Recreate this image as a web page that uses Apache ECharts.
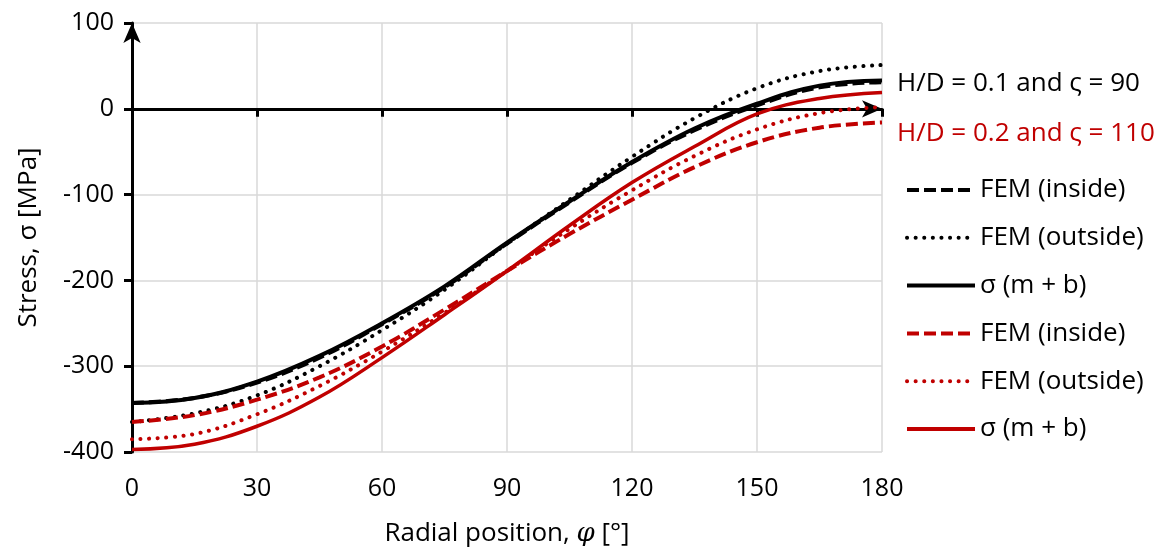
<!DOCTYPE html>
<html>
<head>
<meta charset="utf-8">
<script src="https://cdn.jsdelivr.net/npm/echarts@6/dist/echarts.min.js"></script>
<style>
  html, body { margin: 0; padding: 0; background: #fff; }
  #chart { width: 1168px; height: 552px; }
</style>
</head>
<body>
<div id="chart"></div>
<script>
// Radial position φ [°]
const phi = [0, 15, 30, 45, 60, 75, 90, 105, 120, 135, 150, 165, 180];
const xTicks = [0, 30, 60, 90, 120, 150, 180];
const yTicks = [-400, -300, -200, -100, 0, 100];

// H/D = 0.1 and ς = 90 (black)
const blackFemInside  = [-343, -337, -319, -290, -251, -208, -157, -109, -63, -25, 4, 25, 31];
const blackFemOutside = [-365, -355, -334, -300, -258, -211, -157, -106, -56, -11, 24, 44, 51];
const blackSigma      = [-343, -337, -318, -288, -250, -207, -156, -108, -62, -23, 6, 27, 33];

// H/D = 0.2 and ς = 110 (red)
const redFemInside  = [-365, -357, -339, -313, -277, -234, -189, -146, -106, -68, -39, -22, -16];
const redFemOutside = [-385, -379, -356, -323, -283, -238, -189, -140, -95, -55, -24, -5, 2];
const redSigma      = [-397, -391, -370, -336, -290, -240, -189, -136, -86, -44, -6, 12, 19];

const seriesNames = ['FEM (inside)', 'FEM (outside)', 'σ (m + b)',
                     'FEM (inside)\u200b', 'FEM (outside)\u200b', 'σ (m + b)\u200b'];

const FONT = 'Open Sans';
const BLACK = '#000000';
const RED = '#c00000';

function pairs(ys) { return phi.map((p, i) => [p, ys[i]]); }

function mk(name, data, color, type, width, cap) {
  return {
    name: name, type: 'line', data: pairs(data), smooth: 0.4,
    symbol: 'none', showSymbol: false, xAxisIndex: 0,
    lineStyle: { color: color, width: width, type: type, cap: cap },
    itemStyle: { color: color },
    emphasis: { disabled: true },
    z: 3
  };
}

const DASH = [12, 5];
const DOT = [0.1, 8.5];

const chart = echarts.init(document.getElementById('chart'), null, { renderer: 'canvas' });
chart.setOption({
  animation: false,
  textStyle: { fontFamily: FONT },
  grid: { left: 132, right: 286, top: 23, bottom: 90, containLabel: false },
  xAxis: [
    {
      type: 'value', min: 0, max: 180, interval: 30, position: 'bottom',
      axisLine: { show: false, onZero: false },
      axisTick: { show: false },
      axisLabel: { show: true, fontSize: 25, color: '#000', margin: 24, fontFamily: FONT,
        formatter: v => xTicks.includes(v) ? String(v) : '' },
      splitLine: { show: true, lineStyle: { color: '#d9d9d9', width: 1.5 } },
      name: '{t|Radial position, }{i|φ}{t| [°]}',
      nameLocation: 'middle', nameGap: 69,
      nameTextStyle: {
        rich: {
          t: { fontSize: 26, color: '#000', fontFamily: FONT },
          i: { fontSize: 26, color: '#000', fontFamily: 'DejaVu Serif', fontStyle: 'italic' }
        }
      }
    },
    {
      type: 'value', min: 0, max: 180, interval: 30, position: 'bottom',
      axisLine: { show: true, onZero: true, symbol: ['none', 'arrow'], symbolSize: [13, 20],
        lineStyle: { color: BLACK, width: 3 } },
      axisTick: { show: true, length: 8, lineStyle: { color: BLACK, width: 3 } },
      axisLabel: { show: false },
      splitLine: { show: false }
    }
  ],
  yAxis: {
    type: 'value', min: -400, max: 100, interval: 100,
    axisLine: { show: true, onZero: false, symbol: ['none', 'arrow'], symbolSize: [13, 20],
      lineStyle: { color: BLACK, width: 3 } },
    axisTick: { show: true, length: 8, lineStyle: { color: BLACK, width: 3 } },
    axisLabel: { fontSize: 25, color: '#000', margin: 18, fontFamily: FONT,
      formatter: v => yTicks.includes(v) ? String(v) : '' },
    splitLine: { show: true, lineStyle: { color: '#d9d9d9', width: 1.5 } },
    name: 'Stress, σ [MPa]', nameLocation: 'middle', nameGap: 90, nameRotate: 90,
    nameTextStyle: { fontSize: 26, color: '#000', fontFamily: FONT }
  },
  legend: {
    orient: 'vertical', left: 900, top: 172,
    data: seriesNames,
    itemWidth: 68, itemHeight: 14, itemGap: 21.8,
    itemStyle: { opacity: 0 },
    lineStyle: { width: 4 },
    textStyle: { fontSize: 26, color: '#000', fontFamily: FONT, lineHeight: 24 },
    selectedMode: false
  },
  graphic: [
    { type: 'text', left: 897, top: 71, style: { text: 'H/D = 0.1 and ς = 90', fontSize: 26, fill: BLACK, fontFamily: FONT } },
    { type: 'text', left: 897, top: 121, style: { text: 'H/D = 0.2 and ς = 110', fontSize: 26, fill: RED, fontFamily: FONT } }
  ],
  series: [
    mk(seriesNames[0], blackFemInside, BLACK, DASH, 4, 'butt'),
    mk(seriesNames[1], blackFemOutside, BLACK, DOT, 4, 'round'),
    mk(seriesNames[2], blackSigma, BLACK, 'solid', 4, 'butt'),
    mk(seriesNames[3], redFemInside, RED, DASH, 4, 'butt'),
    mk(seriesNames[4], redFemOutside, RED, DOT, 4, 'round'),
    mk(seriesNames[5], redSigma, RED, 'solid', 3.5, 'butt')
  ]
});
</script>
</body>
</html>
